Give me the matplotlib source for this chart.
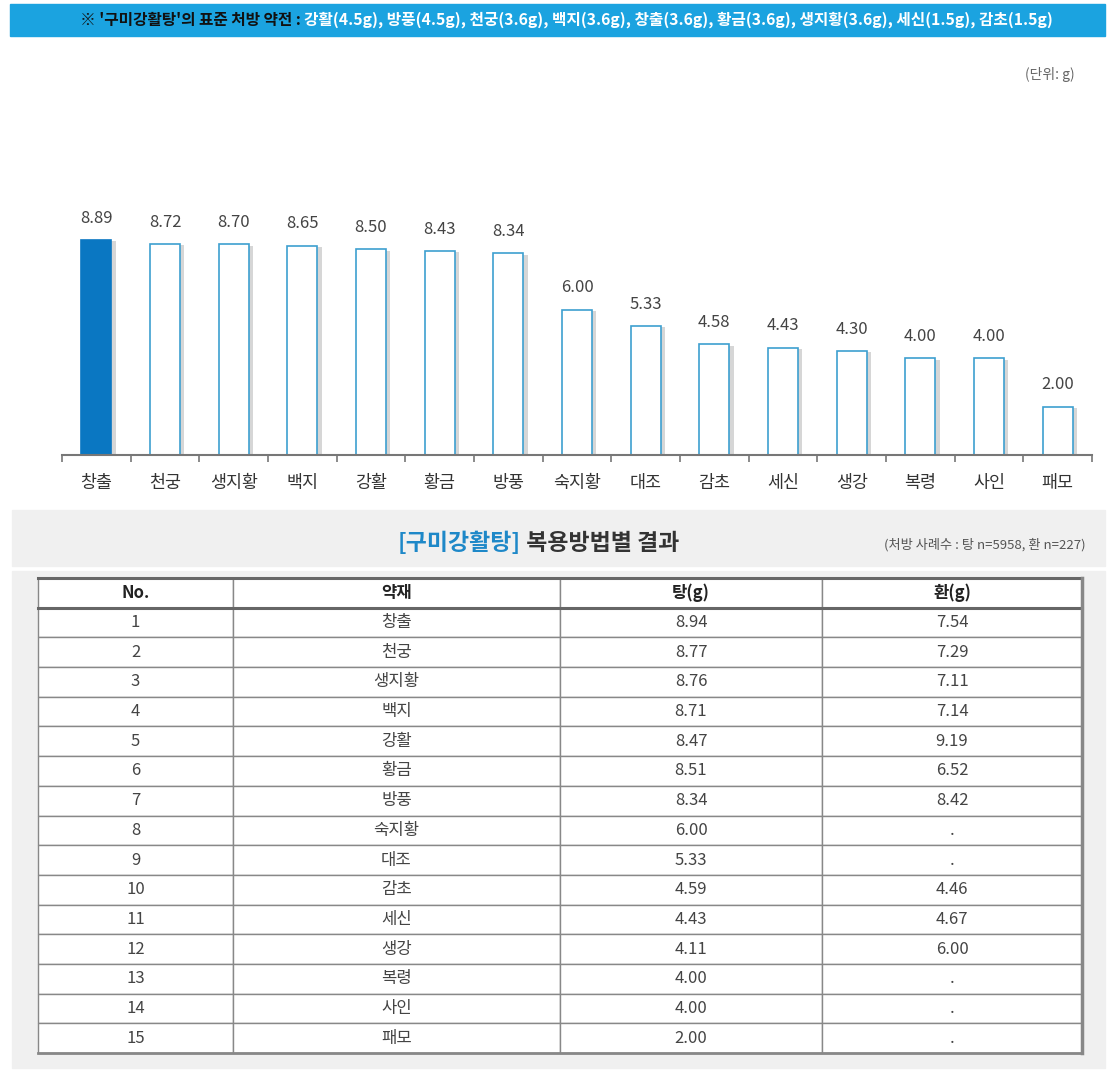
"""구미강활탕 약재별 평균 용량 차트와 복용방법별 결과 표."""
import matplotlib
matplotlib.use("Agg")
import matplotlib.pyplot as plt
import matplotlib.patheffects as pe
from matplotlib.patches import Rectangle

plt.rcParams["font.family"] = ["Noto Sans CJK KR", "DejaVu Sans"]

# 막대그래프 데이터
herbs = ["창출", "천궁", "생지황", "백지", "강활", "황금", "방풍", "숙지황",
         "대조", "감초", "세신", "생강", "복령", "사인", "패모"]
doses = [8.89, 8.72, 8.70, 8.65, 8.50, 8.43, 8.34, 6.00,
         5.33, 4.58, 4.43, 4.30, 4.00, 4.00, 2.00]

# 표 데이터
table_cols = ["No.", "약재", "탕(g)", "환(g)"]
table_herbs = ["창출", "천궁", "생지황", "백지", "강활", "황금", "방풍", "숙지황",
               "대조", "감초", "세신", "생강", "복령", "사인", "패모"]
tang = ["8.94", "8.77", "8.76", "8.71", "8.47", "8.51", "8.34", "6.00",
        "5.33", "4.59", "4.43", "4.11", "4.00", "4.00", "2.00"]
hwan = ["7.54", "7.29", "7.11", "7.14", "9.19", "6.52", "8.42", ".",
        ".", "4.46", "4.67", "6.00", ".", ".", "."]

W, H = 1111, 1080
fig = plt.figure(figsize=(W / 100, H / 100), dpi=100)


def fx(px):
    return px / W


def fy(py):
    return 1 - py / H


# 상단 파란 띠
fig.patches.append(Rectangle((fx(10), fy(36)), fx(1095), 32 / H,
                             transform=fig.transFigure, color="#1ba3e0",
                             zorder=0))
t1 = fig.text(fx(80), fy(20), "※ '구미강활탕'의 표준 처방 약전 : ",
              color="#111111", fontsize=11.3, fontweight="bold",
              va="center", ha="left")
fig.texts.append(plt.Annotation(
    "강활(4.5g), 방풍(4.5g), 천궁(3.6g), 백지(3.6g), 창출(3.6g), "
    "황금(3.6g), 생지황(3.6g), 세신(1.5g), 감초(1.5g)",
    xy=(1, 0), xycoords=t1, va="bottom", ha="left",
    color="white", fontsize=11.3, fontweight="bold"))
fig.texts[-1].set_figure(fig)

fig.text(fx(1075), fy(75), "(단위: g)", color="#666666", fontsize=10,
         ha="right", va="center")

# 막대그래프
ax = fig.add_axes([fx(62), fy(455), fx(1030), 242 / H], zorder=2)
x = list(range(len(herbs)))
faces = ["#0a77c2"] + ["white"] * (len(herbs) - 1)
edges = ["#0a77c2"] + ["#3d9fd0"] * (len(herbs) - 1)
bars = ax.bar(x, doses, width=0.44, color=faces, edgecolor=edges,
              linewidth=1.2, zorder=2)
for b in bars:
    b.set_path_effects([pe.SimplePatchShadow(offset=(3, -1),
                                             shadow_rgbFace="#9a9a9a",
                                             alpha=0.4), pe.Normal()])
for i, v in enumerate(doses):
    ax.text(i, v + 0.55, f"{v:.2f}", ha="center", va="bottom",
            fontsize=12, color="#444444")

ax.set_xlim(-0.5, len(herbs) - 0.5)
ax.set_ylim(0, 10)
ax.set_xticks(x)
ax.set_xticklabels(herbs, fontsize=12.5, color="#333333")
ax.set_xticks([i - 0.5 for i in range(len(herbs) + 1)], minor=True)
ax.tick_params(axis="x", which="major", length=0, pad=14)
ax.tick_params(axis="x", which="minor", length=5, color="#777777",
               width=1.2)
ax.set_yticks([])
for s in ["top", "right", "left"]:
    ax.spines[s].set_visible(False)
ax.spines["bottom"].set_color("#777777")
ax.spines["bottom"].set_linewidth(1.5)
ax.patch.set_alpha(0)

# 표 제목 영역
fig.patches.append(Rectangle((fx(12), fy(566)), fx(1093), 56 / H,
                             transform=fig.transFigure, color="#f0f0f0",
                             zorder=0))
t2 = fig.text(fx(398), fy(543), "[구미강활탕]", color="#1e88c8",
              fontsize=16.5, fontweight="bold", ha="left", va="center")
fig.texts.append(plt.Annotation(" 복용방법별 결과", xy=(1, 0), xycoords=t2,
                                va="bottom", ha="left", color="#333333",
                                fontsize=16.5, fontweight="bold"))
fig.texts[-1].set_figure(fig)
fig.text(fx(1086), fy(545), "(처방 사례수 : 탕 n=5958, 환 n=227)",
         color="#555555", fontsize=9.5, ha="right", va="center")

# 표 영역
fig.patches.append(Rectangle((fx(12), fy(1068)), fx(1093), 497 / H,
                             transform=fig.transFigure, color="#f0f0f0",
                             zorder=0))
tax = fig.add_axes([fx(38), fy(1053), fx(1044), 475 / H], zorder=2)
tax.axis("off")
rows = [[str(i + 1), table_herbs[i], tang[i], hwan[i]]
        for i in range(len(table_herbs))]
col_w = [195 / 1044, 327 / 1044, 262 / 1044, 260 / 1044]
tbl = tax.table(cellText=rows, colLabels=table_cols, colWidths=col_w,
                cellLoc="center", bbox=[0, 0, 1, 1])
tbl.auto_set_font_size(False)
tbl.set_fontsize(12)
for (r, c), cell in tbl.get_celld().items():
    cell.set_edgecolor("#888888")
    cell.set_linewidth(1.0)
    cell.set_facecolor("white")
    cell.get_text().set_color("#444444")
    if r == 0:
        cell.get_text().set_color("#222222")
        cell.get_text().set_fontweight("bold")

nrow = len(rows) + 1
for yy in [1.0, 1 - 1 / nrow]:
    tax.plot([0, 1], [yy, yy], color="#666666", lw=2.2,
             transform=tax.transAxes, clip_on=False, zorder=5)
tax.plot([0, 1], [0, 0], color="#888888", lw=2,
         transform=tax.transAxes, clip_on=False, zorder=5)
tax.plot([1, 1], [0, 1], color="#888888", lw=2.5,
         transform=tax.transAxes, clip_on=False, zorder=5)

fig.savefig("out.png", dpi=100)
